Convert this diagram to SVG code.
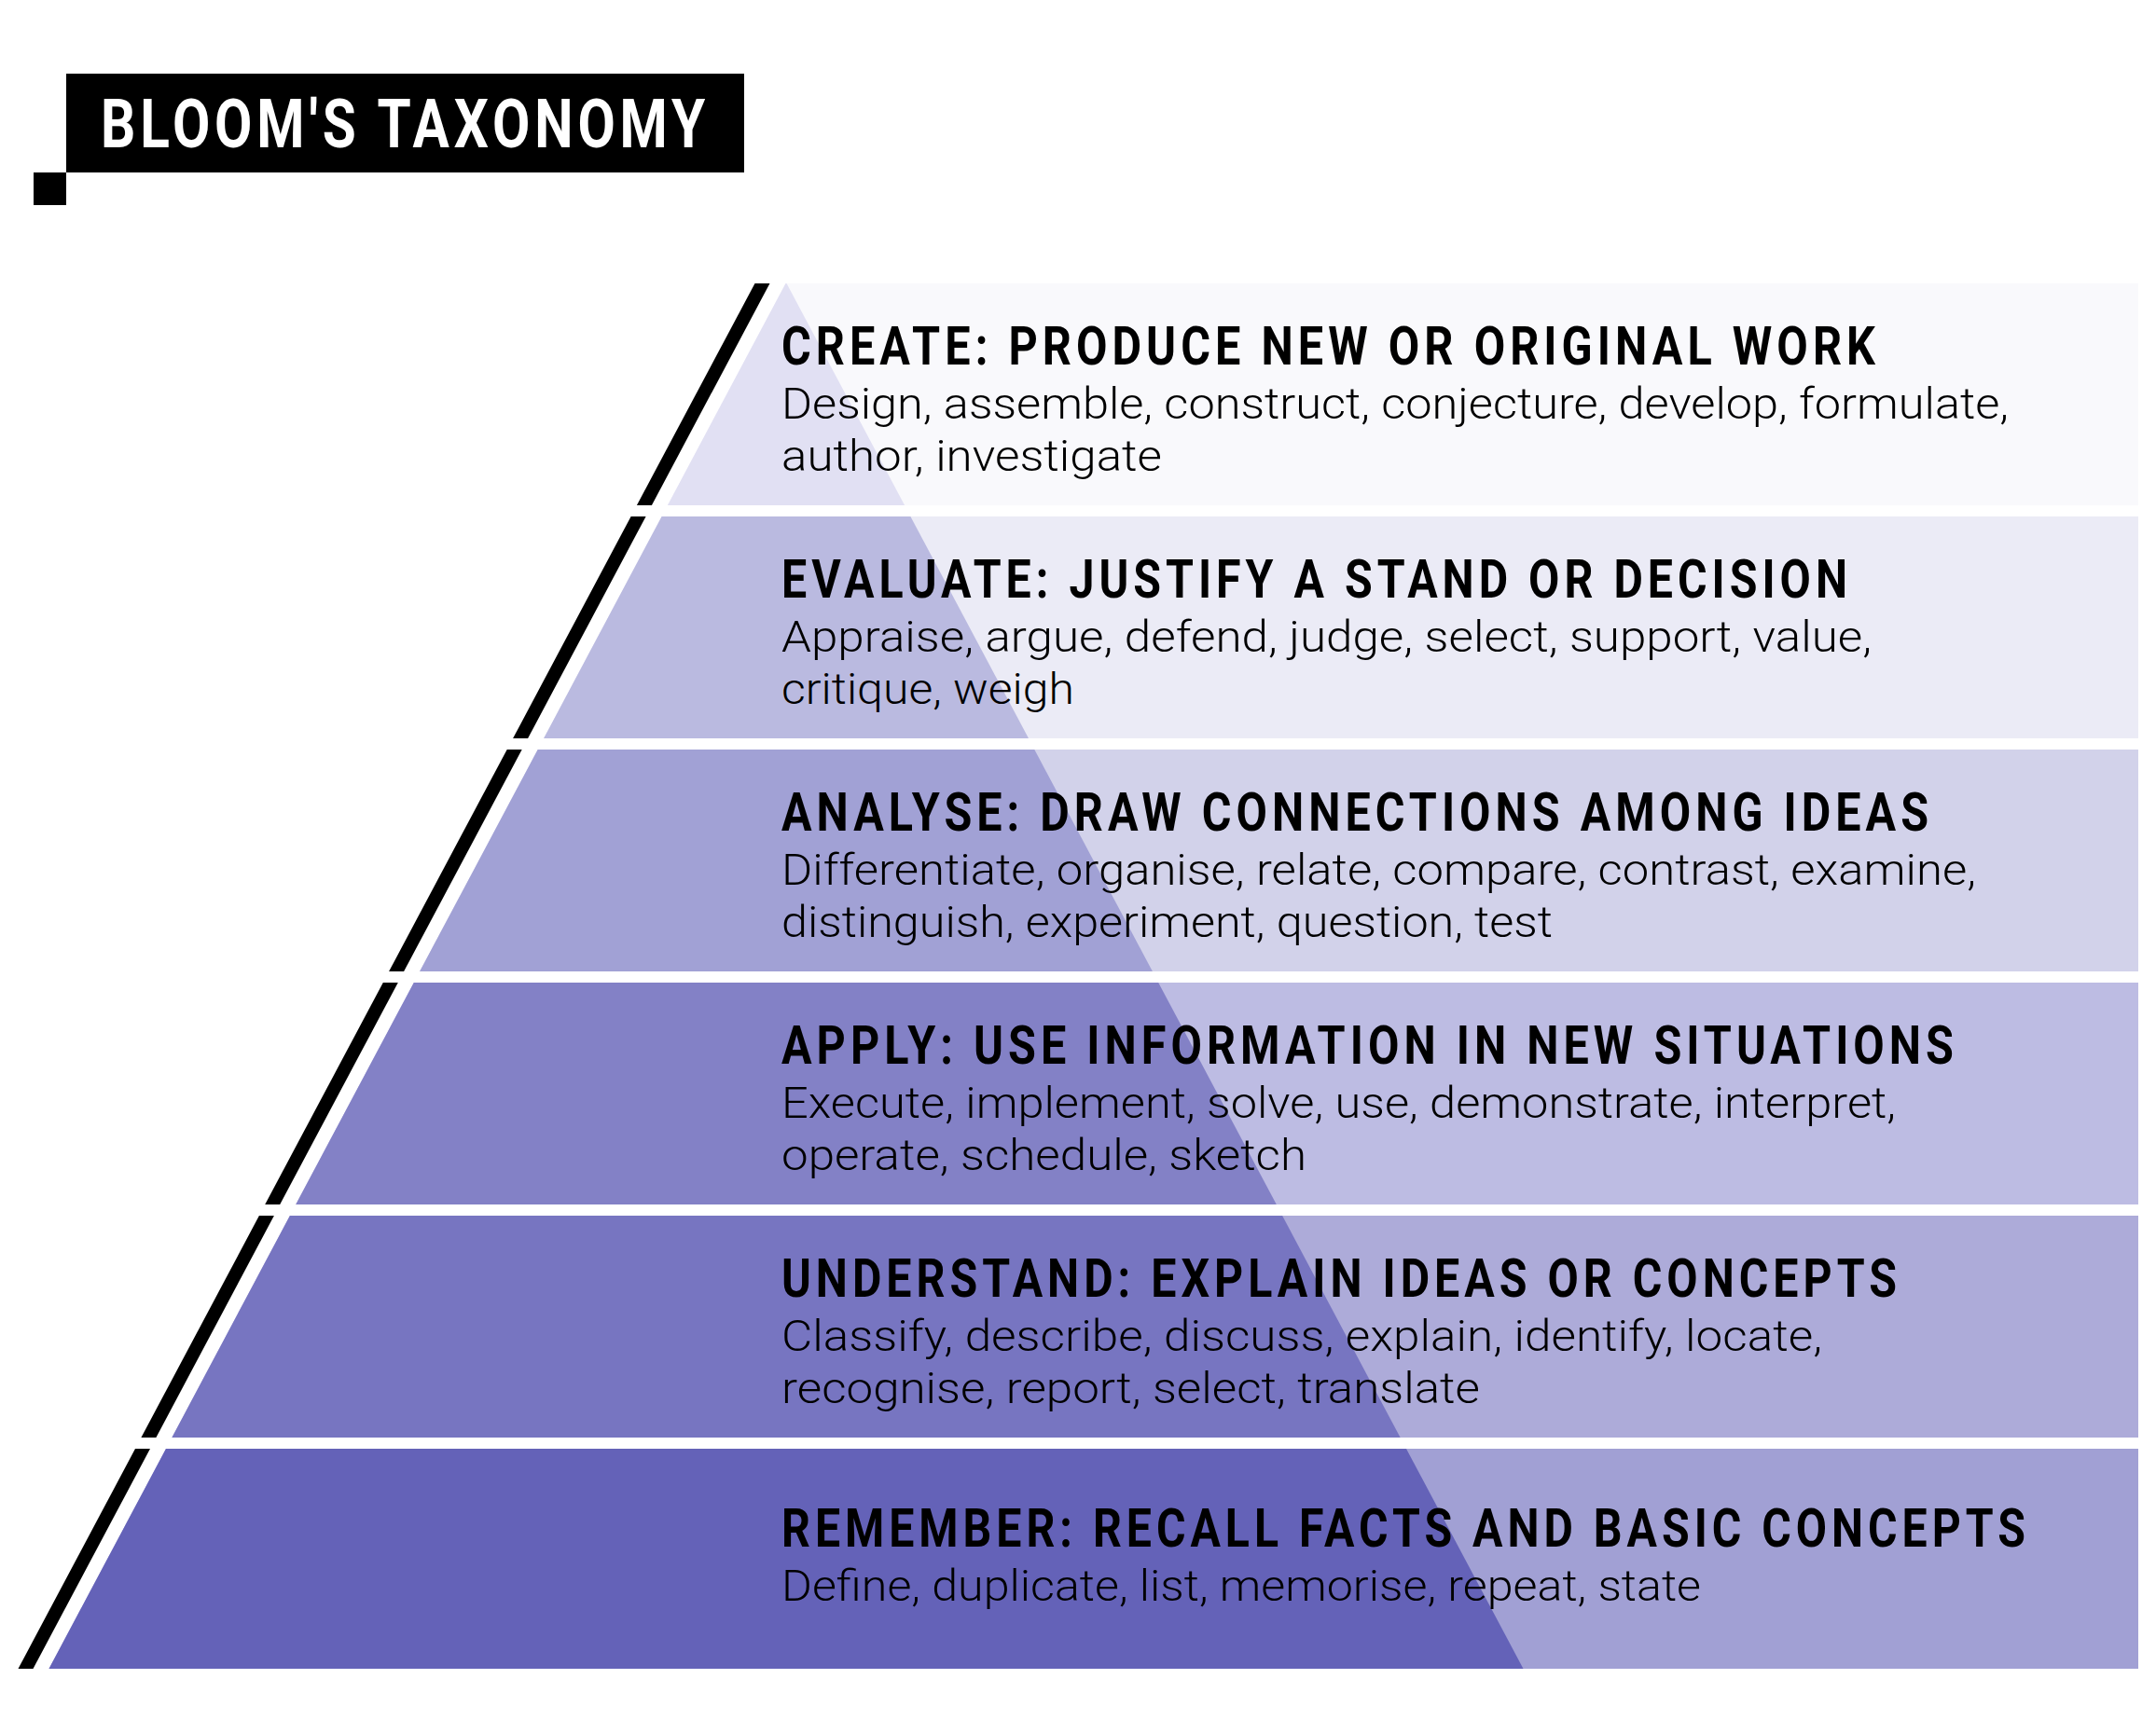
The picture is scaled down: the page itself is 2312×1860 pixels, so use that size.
<svg xmlns="http://www.w3.org/2000/svg" width="2312" height="1860" viewBox="0 0 2312 1860">
<style>
.ttl{font-family:Roboto,"Liberation Sans",sans-serif;font-weight:700;font-size:58px;letter-spacing:6px;fill:#000;}
.body{font-family:Roboto,"Liberation Sans",sans-serif;font-weight:300;font-size:46px;fill:#000;}
.hdr{font-family:Roboto,"Liberation Sans",sans-serif;font-weight:700;font-size:72px;letter-spacing:6px;fill:#fff;}
.stripe{fill:#000;}
</style>
<rect width="2312" height="1860" fill="#fff"/>
<g id="header">
<rect x="71" y="79" width="727" height="106" fill="#000"/>
<rect x="36" y="185" width="35" height="35" fill="#000"/>
<text class="hdr" x="108" y="158" textLength="653" lengthAdjust="spacingAndGlyphs">BLOOM'S TAXONOMY</text>
</g>
<g id="edge-lines">
<polygon class="stripe" points="809.5,304 825.5,304 698.9,542 682.9,542"/>
<polygon class="stripe" points="676.6,554 692.6,554 566.1,792 550.1,792"/>
<polygon class="stripe" points="543.7,804 559.7,804 433.1,1042 417.1,1042"/>
<polygon class="stripe" points="410.8,1054 426.8,1054 300.2,1292 284.2,1292"/>
<polygon class="stripe" points="277.9,1304 293.9,1304 167.4,1542 151.4,1542"/>
<polygon class="stripe" points="145,1554 161,1554 35.5,1790 19.5,1790"/>
</g>
<g id="create">
<polygon points="842.5,304 2293,304 2293,542 715.9,542" fill="#f9f9fc"/>
<polygon points="842.5,304 843.5,304 970.1,542 715.9,542" fill="#e1e0f3"/>
<text class="ttl" x="838" y="391" textLength="1178" lengthAdjust="spacingAndGlyphs">CREATE: PRODUCE NEW OR ORIGINAL WORK</text>
<text class="body" x="838" y="449" textLength="1316" lengthAdjust="spacingAndGlyphs">Design, assemble, construct, conjecture, develop, formulate,</text>
<text class="body" x="838" y="505" textLength="408" lengthAdjust="spacingAndGlyphs">author, investigate</text>
</g>
<g id="evaluate">
<polygon points="709.6,554 2293,554 2293,792 583.1,792" fill="#ebebf6"/>
<polygon points="709.6,554 976.4,554 1103,792 583.1,792" fill="#babae0"/>
<text class="ttl" x="838" y="641" textLength="1148" lengthAdjust="spacingAndGlyphs">EVALUATE: JUSTIFY A STAND OR DECISION</text>
<text class="body" x="838" y="699" textLength="1169" lengthAdjust="spacingAndGlyphs">Appraise, argue, defend, judge, select, support, value,</text>
<text class="body" x="838" y="755" textLength="314" lengthAdjust="spacingAndGlyphs">critique, weigh</text>
</g>
<g id="analyse">
<polygon points="576.7,804 2293,804 2293,1042 450.1,1042" fill="#d2d2ea"/>
<polygon points="576.7,804 1109.3,804 1235.9,1042 450.1,1042" fill="#a1a1d5"/>
<text class="ttl" x="838" y="891" textLength="1235" lengthAdjust="spacingAndGlyphs">ANALYSE: DRAW CONNECTIONS AMONG IDEAS</text>
<text class="body" x="838" y="949" textLength="1281" lengthAdjust="spacingAndGlyphs">Differentiate, organise, relate, compare, contrast, examine,</text>
<text class="body" x="838" y="1005" textLength="827" lengthAdjust="spacingAndGlyphs">distinguish, experiment, question, test</text>
</g>
<g id="apply">
<polygon points="443.8,1054 2293,1054 2293,1292 317.2,1292" fill="#bdbce3"/>
<polygon points="443.8,1054 1242.2,1054 1368.8,1292 317.2,1292" fill="#8381c6"/>
<text class="ttl" x="838" y="1141" textLength="1262" lengthAdjust="spacingAndGlyphs">APPLY: USE INFORMATION IN NEW SITUATIONS</text>
<text class="body" x="838" y="1199" textLength="1195" lengthAdjust="spacingAndGlyphs">Execute, implement, solve, use, demonstrate, interpret,</text>
<text class="body" x="838" y="1255" textLength="563" lengthAdjust="spacingAndGlyphs">operate, schedule, sketch</text>
</g>
<g id="understand">
<polygon points="310.9,1304 2293,1304 2293,1542 184.4,1542" fill="#adabd9"/>
<polygon points="310.9,1304 1375.1,1304 1501.6,1542 184.4,1542" fill="#7775c1"/>
<text class="ttl" x="838" y="1391" textLength="1201" lengthAdjust="spacingAndGlyphs">UNDERSTAND: EXPLAIN IDEAS OR CONCEPTS</text>
<text class="body" x="838" y="1449" textLength="1116" lengthAdjust="spacingAndGlyphs">Classify, describe, discuss, explain, identify, locate,</text>
<text class="body" x="838" y="1505" textLength="749" lengthAdjust="spacingAndGlyphs">recognise, report, select, translate</text>
</g>
<g id="remember">
<polygon points="178,1554 2293,1554 2293,1790 52.5,1790" fill="#a1a0d4"/>
<polygon points="178,1554 1508,1554 1633.5,1790 52.5,1790" fill="#6462b8"/>
<text class="ttl" x="838" y="1659" textLength="1339" lengthAdjust="spacingAndGlyphs">REMEMBER: RECALL FACTS AND BASIC CONCEPTS</text>
<text class="body" x="838" y="1717" textLength="986" lengthAdjust="spacingAndGlyphs">Define, duplicate, list, memorise, repeat, state</text>
</g>
</svg>
